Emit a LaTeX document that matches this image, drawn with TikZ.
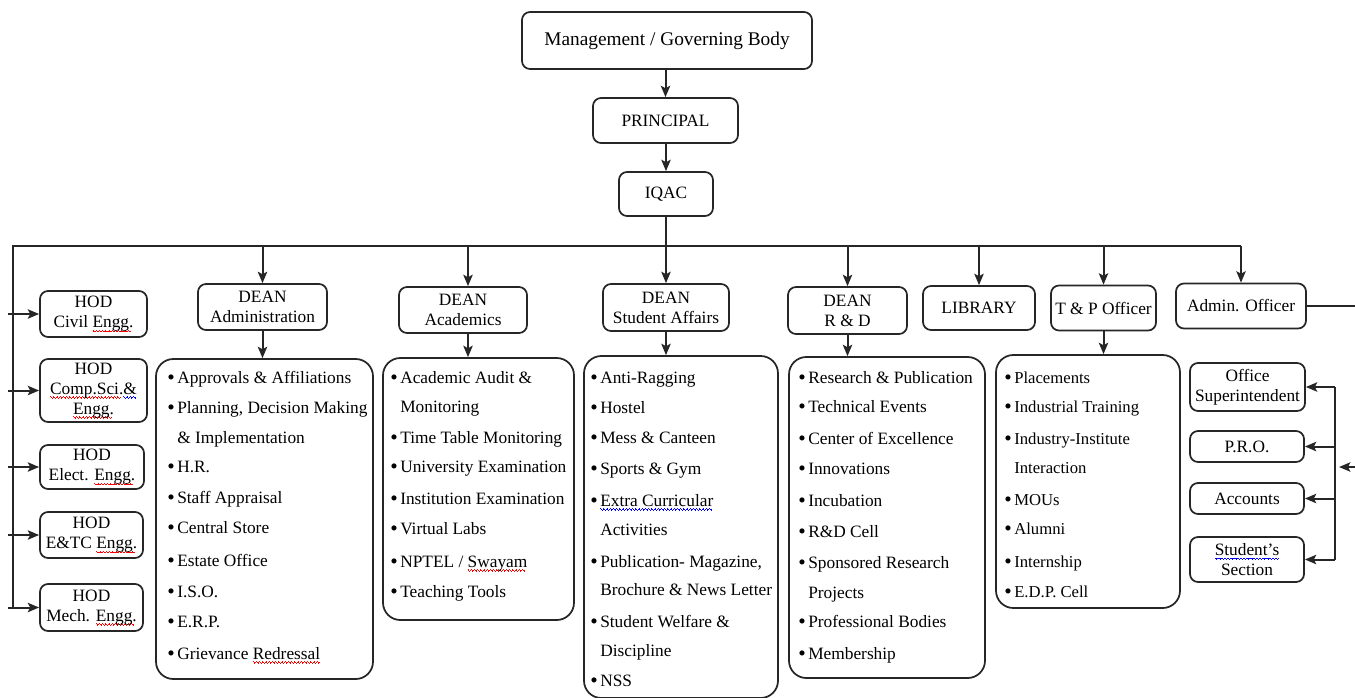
\documentclass[tikz,border=0pt]{standalone}
\usepackage{fontspec}
\setmainfont{Liberation Serif}
\usetikzlibrary{arrows.meta}
\definecolor{ln}{HTML}{262626}
\newcommand\bul{\makebox[7.5pt][l]{\raisebox{-1.1pt}{\fontsize{16}{16}\selectfont\textbullet}}}
\newcommand\ind{\makebox[7.5pt]{}}
\newlength\sqw
\newcommand\sq[2]{\settowidth\sqw{#2}\rlap{{\color{#1}\leaders\hbox{\rule[-2.3pt]{.6pt}{.55pt}\rule[-2.8pt]{.6pt}{.55pt}\rule[-3.3pt]{.6pt}{.55pt}\rule[-2.8pt]{.6pt}{.55pt}}\hskip\sqw}}#2}
\newcommand\rsq[1]{\sq{red}{#1}}
\newcommand\bsq[1]{\sq{blue}{#1}}
\begin{document}
\begin{tikzpicture}[x=0.75pt,y=-0.75pt,
  font=\fontsize{13}{15}\selectfont,
  box/.style 2 args={draw=ln, line width=1.3pt, rounded corners=6pt, inner sep=0pt,
    align=center, minimum width=#1*0.75pt, minimum height=#2*0.75pt},
  lbox/.style 2 args={draw=ln, line width=1.3pt, rounded corners=13pt, inner sep=0pt,
    minimum width=#1*0.75pt, minimum height=#2*0.75pt},
  li/.style={anchor=base west, inner sep=0pt},
  ln/.style={draw=ln, line width=1.5pt},
  arr/.style={ln, -{Stealth[length=8.5pt,width=7pt,inset=1.8pt]}}]
\useasboundingbox (0,0) rectangle (1355,697);

% top chain
\node[box={290}{57}, font=\fontsize{14.5}{17}\selectfont] (mgmt) at (667,40.5) {Management / Governing Body};
\node[box={145}{45}] (prin) at (665.5,120.5) {PRINCIPAL};
\node[box={94}{44}] (iqac) at (666,194) {IQAC};
\draw[arr] (mgmt.south -| prin.north) -- (prin.north);
\draw[arr] (prin.south -| iqac.north) -- (iqac.north);

% second level
\node[box={129}{46}] (dadm) at (262.5,307) {DEAN\\Administration};
\node[box={128}{46}] (dac) at (463,310) {DEAN\\Academics};
\node[box={126}{47}] (dsa) at (666,307.5) {DEAN\\Student Affairs};
\node[box={119}{47}] (drd) at (847.5,310.5) {DEAN\\R \& D};
\node[box={112}{44}] (lib) at (979,308) {LIBRARY};
\node[box={105}{45}] (tp) at (1103.5,308) {T \& P Officer};
\node[box={130}{45}] (adm) at (1241,306) {Admin. Officer};

% HOD boxes
\node[box={107}{46}] (h1) at (93.5,314) {HOD\\Civil \rsq{Engg.}};
\node[box={107}{63}] (h2) at (93.5,390.5) {HOD\\\rsq{Comp.Sci.}\bsq{\&}\\\rsq{Engg.}};
\node[box={104}{44}] (h3) at (92,467) {HOD\\Elect. \rsq{Engg.}};
\node[box={103}{46}] (h4) at (91.5,535) {HOD\\E\&TC \rsq{Engg.}};
\node[box={103}{47}] (h5) at (91.5,607.5) {HOD\\Mech. \rsq{Engg.}};

% admin officer sub-boxes
\node[box={115}{48}] (os) at (1247.5,387) {Office\\Superintendent};
\node[box={114}{31}] (pro) at (1247,446.5) {P.R.O.};
\node[box={114}{31}] (acc) at (1247,498.5) {Accounts};
\node[box={114}{45}] (ss) at (1247,559.5) {\bsq{Student's}\\Section};

% list boxes
\node[lbox={217}{320}] (ladm) at (264.5,519) {};
\node[lbox={191}{262}] (lac) at (478.5,489) {};
\node[lbox={194}{342}] (lsa) at (681,527) {};
\node[lbox={196}{321}] (lrd) at (887,517.5) {};
\node[lbox={184}{253}] (ltp) at (1088,481.5) {};

% list texts
\foreach \y/\t [count=\i] in {383/{\bul Approvals \& Affiliations},413/{\bul Planning, Decision Making},
  443/{\ind\& Implementation},472/{\bul H.R.},503/{\bul Staff Appraisal},533/{\bul Central Store},
  566/{\bul Estate Office},597/{\bul I.S.O.},627/{\bul E.R.P.},659/{\bul Grievance \rsq{Redressal}}}
  \node[li] (tadm\i) at (167,\y) {\t};
\foreach \y/\t [count=\i] in {383/{\bul Academic Audit \&},412/{\ind Monitoring},443/{\bul Time Table Monitoring},
  472/{\bul University Examination},504/{\bul Institution Examination},534/{\bul Virtual Labs},
  567/{\bul NPTEL / \rsq{Swayam}},597/{\bul Teaching Tools}}
  \node[li] (tac\i) at (390,\y) {\t};
\foreach \y/\t [count=\i] in {383/{\bul Anti-Ragging},413/{\bul Hostel},443/{\bul Mess \& Canteen},
  474/{\bul Sports \& Gym},506/{\bul \bsq{Extra Curricular}},535/{\ind Activities},
  567/{\bul Publication- Magazine,},595/{\ind Brochure \& News Letter},627/{\bul Student Welfare \&},
  656/{\ind Discipline},686/{\bul NSS}}
  \node[li] (tsa\i) at (590,\y) {\t};
\foreach \y/\t [count=\i] in {383/{\bul Research \& Publication},412/{\bul Technical Events},
  444/{\bul Center of Excellence},474/{\bul Innovations},506/{\bul Incubation},537/{\bul R\&D Cell},
  568/{\bul Sponsored Research},598/{\ind Projects},627/{\bul Professional Bodies},659/{\bul Membership}}
  \node[li] (trd\i) at (798,\y) {\t};
\foreach \y/\t [count=\i] in {383/{\bul Placements},412/{\bul Industrial Training},444/{\bul Industry-Institute},
  473/{\ind Interaction},505/{\bul MOUs},534/{\bul Alumni},567/{\bul Internship},597/{\bul E.D.P. Cell}}
  \node[li, font=\fontsize{12.5}{15}\selectfont] (ttp\i) at (1004,\y) {\t};

% bus and connectors
\coordinate (busL) at (13,246);
\coordinate (vBot) at (13,608);
\coordinate (lx) at (8,0);
\coordinate (acx) at (468,0);
\coordinate (rx) at (1335,0);
\coordinate (offR) at (1368,467);
\coordinate (inR) at (1339,467);
\draw[ln] (iqac.south) -- (iqac.south |- busL);
\draw[ln] (adm.north |- busL) -- (busL) -- (vBot);
\foreach \n in {dadm,dsa,drd,lib,tp,adm}
  \draw[arr] (\n.north |- busL) -- (\n.north);
\draw[arr] (acx |- busL) -- (acx |- dac.north);
\foreach \a/\b in {dadm/ladm,dsa/lsa,drd/lrd,tp/ltp}
  \draw[arr] (\a.south) -- (\a.south |- \b.north);
\draw[arr] (acx |- dac.south) -- (acx |- lac.north);
\foreach \h in {h1,h2,h3,h4,h5}
  \draw[arr] (lx |- \h.west) -- (\h.west);
\draw[ln] (rx |- os.east) -- (rx |- ss.east);
\foreach \b in {os,pro,acc,ss}
  \draw[arr] (rx |- \b.east) -- (\b.east);
\draw[arr] (adm.east) -- (adm.east -| offR) -- (offR) -- (inR);
\end{tikzpicture}
\end{document}
